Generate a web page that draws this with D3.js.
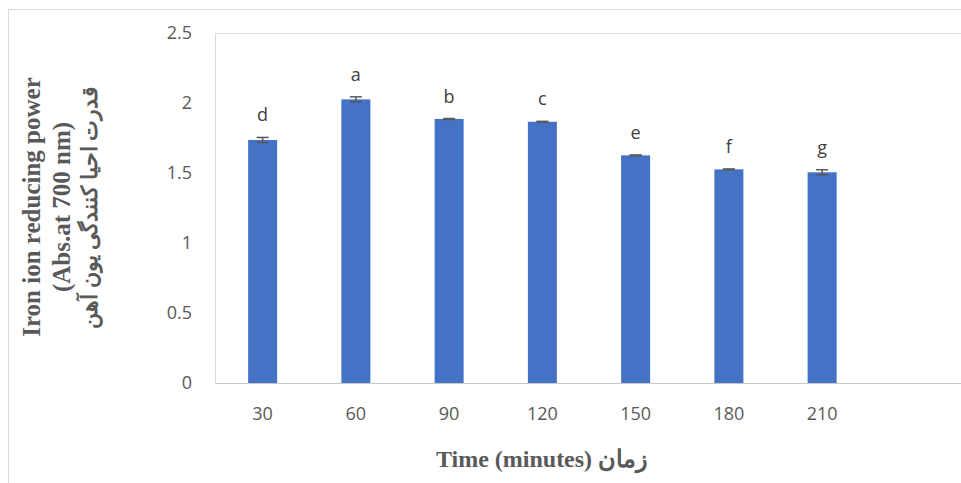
<!DOCTYPE html>
<html>
<head>
<meta charset="utf-8">
<script src="https://cdn.jsdelivr.net/npm/d3@7"></script>
<style>
  body { margin: 0; background: #fff; }
  svg { display: block; }
</style>
</head>
<body>
<div id="chart"></div>
<script>
// data
const times = ["30", "60", "90", "120", "150", "180", "210", ""]
const values = [1.736, 2.026, 1.886, 1.866, 1.626, 1.526, 1.505]
const errors = [0.018, 0.018, 0.003, 0.003, 0.003, 0.003, 0.018]
const letters = ["d", "a", "b", "c", "e", "f", "g"]
const yTicks = [0, 0.5, 1, 1.5, 2, 2.5]

const width = 961, height = 483
const margin = { top: 33, right: -1, bottom: 100, left: 216 }

const svg = d3.select("#chart")
  .append("svg")
  .attr("width", width)
  .attr("height", height)

// outer chart frame
svg.append("rect")
  .attr("x", 8.5).attr("y", 9.5)
  .attr("width", width).attr("height", height)
  .attr("fill", "none")
  .attr("stroke", "#d9d9d9")

let x = d3.scaleBand()
  .domain(times.map((t, i) => i))
  .range([margin.left, width - margin.right])

let y = d3.scaleLinear()
  .domain([0, 2.5])
  .range([height - margin.bottom, margin.top])

// plot area frame
svg.append("rect")
  .attr("x", margin.left - 0.5).attr("y", y(2.5) + 0.5)
  .attr("width", width).attr("height", y(0) - y(2.5))
  .attr("fill", "none")
  .attr("stroke", "#d9d9d9")

// y tick labels
svg.append("g")
  .selectAll("text")
  .data(yTicks)
  .enter()
  .append("text")
  .attr("x", 192)
  .attr("y", d => y(d))
  .attr("dy", "0.35em")
  .attr("text-anchor", "end")
  .attr("font-family", "Open Sans, sans-serif")
  .attr("font-size", "18px")
  .attr("fill", "#595959")
  .text(d => d)

// x axis
svg.append("line")
  .attr("x1", margin.left).attr("x2", width)
  .attr("y1", y(0) + 0.5).attr("y2", y(0) + 0.5)
  .attr("stroke", "#c8c8c8")

svg.append("g")
  .selectAll("text")
  .data(times)
  .enter()
  .append("text")
  .attr("x", (d, i) => x(i) + x.bandwidth() / 2)
  .attr("y", 414)
  .attr("dy", "0.35em")
  .attr("text-anchor", "middle")
  .attr("font-family", "Open Sans, sans-serif")
  .attr("font-size", "18px")
  .attr("fill", "#595959")
  .text(d => d)

const barW = 29

// bars
svg.append("g")
  .selectAll("rect")
  .data(values)
  .enter()
  .append("rect")
  .attr("x", (d, i) => x(i) + x.bandwidth() / 2 - barW / 2)
  .attr("y", d => y(d))
  .attr("width", barW)
  .attr("height", d => y(0) - y(d))
  .attr("fill", "#4472c4")

// error bars
let err = svg.append("g")
  .attr("stroke", "#595959")
  .attr("stroke-width", 1.5)

values.forEach((v, i) => {
  let cx = x(i) + x.bandwidth() / 2
  let top = y(v + errors[i]), bot = y(v - errors[i])
  err.append("line").attr("x1", cx).attr("x2", cx).attr("y1", top).attr("y2", bot)
  err.append("line").attr("x1", cx - 6).attr("x2", cx + 6).attr("y1", top).attr("y2", top)
  err.append("line").attr("x1", cx - 6).attr("x2", cx + 6).attr("y1", bot).attr("y2", bot)
})

// significance letters
svg.append("g")
  .selectAll("text")
  .data(values)
  .enter()
  .append("text")
  .attr("x", (d, i) => x(i) + x.bandwidth() / 2)
  .attr("y", (d, i) => y(d + errors[i]) - 16)
  .attr("text-anchor", "middle")
  .attr("font-family", "Open Sans, sans-serif")
  .attr("font-size", "18px")
  .attr("fill", "#404040")
  .text((d, i) => letters[i])

// axis titles
let yTitle = svg.append("text")
  .attr("transform", "translate(0,207) rotate(-90)")
  .attr("text-anchor", "middle")
  .attr("font-family", "Liberation Serif, Times New Roman, serif")
  .attr("font-weight", "bold")
  .attr("font-size", "25px")
  .attr("fill", "#595959")

const yLines = ["Iron ion reducing power", "(Abs.at 700 nm)", "قدرت احیا کنندگی یون آهن"]
const yLineX = [40, 70, 97]
yLines.forEach((t, i) => {
  yTitle.append("tspan")
    .attr("x", 0).attr("y", yLineX[i])
    .attr("font-size", i == 2 ? "22px" : null)
    .text(t)
})

svg.append("text")
  .attr("x", 542)
  .attr("y", 467)
  .attr("text-anchor", "middle")
  .attr("font-family", "Liberation Serif, Times New Roman, serif")
  .attr("font-weight", "bold")
  .attr("font-size", "24px")
  .attr("fill", "#595959")
  .text("Time (minutes) زمان")
</script>
</body>
</html>
